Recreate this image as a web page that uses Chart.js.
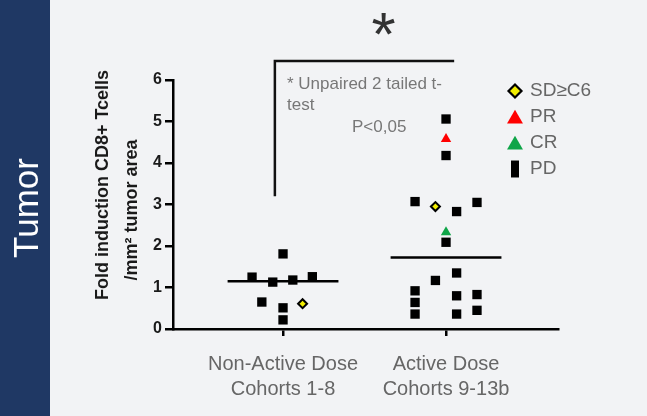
<!DOCTYPE html>
<html>
<head>
<meta charset="utf-8">
<script src="https://cdn.jsdelivr.net/npm/chart.js@4.4.1/dist/chart.umd.min.js"></script>
<style>
html, body { margin: 0; padding: 0; background: #f2f3f5; }
#grafico { display: block; }
</style>
</head>
<body>
<canvas id="grafico" width="647" height="416"></canvas>
<script>
// categorias y etiquetas
const categorias = [['Non-Active Dose', 'Cohorts 1-8'], ['Active Dose', 'Cohorts 9-13b']];
const ticksY = [0, 1, 2, 3, 4, 5, 6];
const tituloY = ['Fold induction CD8+ Tcells', '/mm\u00B2 tumor area'];
const panel = 'Tumor';
const leyenda = ['SD\u2265C6', 'PR', 'CR', 'PD'];

// PD (cuadrados negros): grupo + desplazamiento horizontal, valor
const pdGrupo = [0, 0, 0, 0, 0, 0, 0, 0, 1, 1, 1, 1, 1, 1, 1, 1, 1, 1, 1, 1, 1, 1, 1];
const pdDesp = [0, -0.19, -0.063, 0.06, 0.18, -0.13, 0, 0,
  0, 0, -0.19, 0.065, 0.19, 0, -0.065, 0.065, -0.19, -0.19, -0.19, 0.065, 0.065, 0.19, 0.19];
const pdValor = [1.81, 1.25, 1.13, 1.18, 1.26, 0.65, 0.51, 0.22,
  5.06, 4.18, 3.07, 2.83, 3.05, 2.09, 1.17, 1.35, 0.92, 0.64, 0.36, 0.80, 0.36, 0.83, 0.45];

// SD>=C6 (rombos amarillos)
const sdGrupo = [0, 1];
const sdDesp = [0.12, -0.065];
const sdValor = [0.61, 2.95];

// PR (triangulo rojo) y CR (triangulo verde)
const prGrupo = [1];
const prDesp = [0];
const prValor = [4.58];
const crGrupo = [1];
const crDesp = [0];
const crValor = [2.33];

// medias por grupo
const medias = [1.15, 1.72];
const anchoMedia = 0.34;

// corchete de significancia
const corcheteX = [-0.05, 1.05];
const corcheteY = [3.2, 6.46];
const textoTest = ['* Unpaired 2 tailed t-', 'test'];
const textoP = 'P<0,05';

const fuente = "'Liberation Sans', Arial, sans-serif";

function puntos(grupos, desp, valores){
  return valores.map((v, i) => ({x: grupos[i] + desp[i], y: v}));
}

const estilos = [
  {pointStyle: 'rectRot', radius: 4.5, backgroundColor: '#f2ee00', borderColor: '#000', borderWidth: 2},
  {pointStyle: 'triangle', radius: 6, backgroundColor: '#ff0000', borderColor: '#ff0000', borderWidth: 0},
  {pointStyle: 'triangle', radius: 6, backgroundColor: '#0fa548', borderColor: '#0fa548', borderWidth: 0},
  {pointStyle: 'rect', radius: 6.6, backgroundColor: '#000', borderColor: '#000', borderWidth: 0}
];

function datasetPuntos(label, data, e){
  return {
    label: label, data: data,
    pointStyle: e.pointStyle, pointRadius: e.radius, pointHoverRadius: e.radius,
    pointBackgroundColor: e.backgroundColor, pointBorderColor: e.borderColor,
    pointBorderWidth: e.borderWidth, showLine: false
  };
}

const lineasMedia = medias.map((m, g) => ({
  label: 'media' + g,
  data: [{x: g - anchoMedia, y: m}, {x: g + anchoMedia, y: m}],
  showLine: true, borderColor: '#000', borderWidth: 2.5, pointRadius: 0
}));

const datasets = [
  ...lineasMedia,
  datasetPuntos(leyenda[3], puntos(pdGrupo, pdDesp, pdValor), estilos[3]),
  datasetPuntos(leyenda[2], puntos(crGrupo, crDesp, crValor), estilos[2]),
  datasetPuntos(leyenda[1], puntos(prGrupo, prDesp, prValor), estilos[1]),
  datasetPuntos(leyenda[0], puntos(sdGrupo, sdDesp, sdValor), estilos[0])
];

const decoracion = {
  id: 'decoracion',
  beforeDraw(chart){
    const ctx = chart.ctx;
    ctx.save();
    ctx.fillStyle = '#f2f3f5';
    ctx.fillRect(0, 0, chart.width, chart.height);
    ctx.fillStyle = '#1f3864';
    ctx.fillRect(0, 0, 50, chart.height);

    // texto del panel
    ctx.translate(38, 208);
    ctx.rotate(-Math.PI / 2);
    ctx.fillStyle = '#ffffff';
    ctx.font = '35px ' + fuente;
    ctx.textAlign = 'center';
    ctx.textBaseline = 'alphabetic';
    ctx.fillText(panel, 0, 0);
    ctx.restore();

    // titulo eje y
    const pos = [[108, 185], [137, 210]];
    tituloY.forEach((t, i) => {
      ctx.save();
      ctx.translate(pos[i][0], pos[i][1]);
      ctx.rotate(-Math.PI / 2);
      ctx.fillStyle = '#1a1a1a';
      ctx.font = 'bold 18px ' + fuente;
      ctx.textAlign = 'center';
      ctx.textBaseline = 'alphabetic';
      ctx.fillText(t, 0, 0);
      ctx.restore();
    });
  },
  afterDatasetsDraw(chart){
    const ctx = chart.ctx;
    const x = chart.scales.x, y = chart.scales.y;
    ctx.save();

    // corchete
    ctx.strokeStyle = '#111';
    ctx.lineWidth = 2.5;
    ctx.beginPath();
    ctx.moveTo(x.getPixelForValue(corcheteX[0]), y.getPixelForValue(corcheteY[0]));
    ctx.lineTo(x.getPixelForValue(corcheteX[0]), y.getPixelForValue(corcheteY[1]));
    ctx.lineTo(x.getPixelForValue(corcheteX[1]), y.getPixelForValue(corcheteY[1]));
    ctx.stroke();

    // asterisco
    ctx.fillStyle = '#333';
    ctx.font = '62px ' + fuente;
    const m = ctx.measureText('*');
    const cx = 385, cy = 24;
    ctx.textAlign = 'left';
    ctx.textBaseline = 'alphabetic';
    ctx.fillText('*', cx - (m.actualBoundingBoxRight - m.actualBoundingBoxLeft) / 2 + m.actualBoundingBoxLeft,
      cy + (m.actualBoundingBoxAscent - m.actualBoundingBoxDescent) / 2);

    // texto del test
    ctx.fillStyle = '#777';
    ctx.font = '17px ' + fuente;
    ctx.textBaseline = 'middle';
    ctx.fillText(textoTest[0], 287, 84);
    ctx.fillText(textoTest[1], 287, 105);
    ctx.fillText(textoP, 352, 127);

    // leyenda
    const filas = [91, 117, 143, 169];
    const tam = [
      {pointStyle: 'rectRot', radius: 6.5, borderWidth: 2.2, w: 0},
      {pointStyle: 'triangle', radius: 9.2, borderWidth: 0, w: 0},
      {pointStyle: 'triangle', radius: 9.2, borderWidth: 0, w: 0},
      {pointStyle: 'rect', radius: 12, borderWidth: 0, w: 8}
    ];
    leyenda.forEach((t, i) => {
      const e = estilos[i];
      ctx.fillStyle = e.backgroundColor;
      ctx.strokeStyle = e.borderColor;
      ctx.lineWidth = tam[i].borderWidth;
      const yy = tam[i].pointStyle === 'triangle' ? filas[i] + 2 : filas[i];
      Chart.helpers.drawPointLegend(ctx, {pointStyle: tam[i].pointStyle, radius: tam[i].radius,
        rotation: 0, borderWidth: tam[i].borderWidth}, 515, yy, tam[i].w || undefined);
      ctx.fillStyle = '#666';
      ctx.font = '19px ' + fuente;
      ctx.textBaseline = 'middle';
      ctx.fillText(t, 530, filas[i]);
    });
    ctx.restore();
  }
};

new Chart(document.getElementById('grafico'), {
  type: 'scatter',
  data: {datasets: datasets},
  options: {
    responsive: false,
    animation: false,
    events: [],
    layout: {padding: {top: 80, right: 89, left: 0, bottom: 0}},
    plugins: {legend: {display: false}, tooltip: {enabled: false}},
    scales: {
      x: {
        type: 'linear',
        min: -0.675,
        max: 1.687,
        afterBuildTicks: (scale) => { scale.ticks = categorias.map((c, i) => ({value: i})); },
        afterFit: (scale) => { scale.height = 87; },
        ticks: {
          callback: (v) => categorias[v],
          color: '#666',
          font: {family: fuente, size: 20, lineHeight: 1.25},
          padding: 16,
          maxRotation: 0,
          autoSkip: false
        },
        grid: {drawOnChartArea: false, color: '#000', lineWidth: 2.5, tickLength: 7},
        border: {color: '#000', width: 2.5}
      },
      y: {
        min: ticksY[0],
        max: ticksY[ticksY.length - 1],
        afterBuildTicks: (scale) => { scale.ticks = ticksY.map(v => ({value: v})); },
        afterFit: (scale) => { scale.width = 173; },
        ticks: {
          color: '#1a1a1a',
          font: {family: fuente, size: 16, weight: 'bold'},
          padding: 3
        },
        grid: {drawOnChartArea: false, color: '#000', lineWidth: 2.5, tickLength: 8},
        border: {color: '#000', width: 2.5}
      }
    }
  },
  plugins: [decoracion]
});
</script>
</body>
</html>
